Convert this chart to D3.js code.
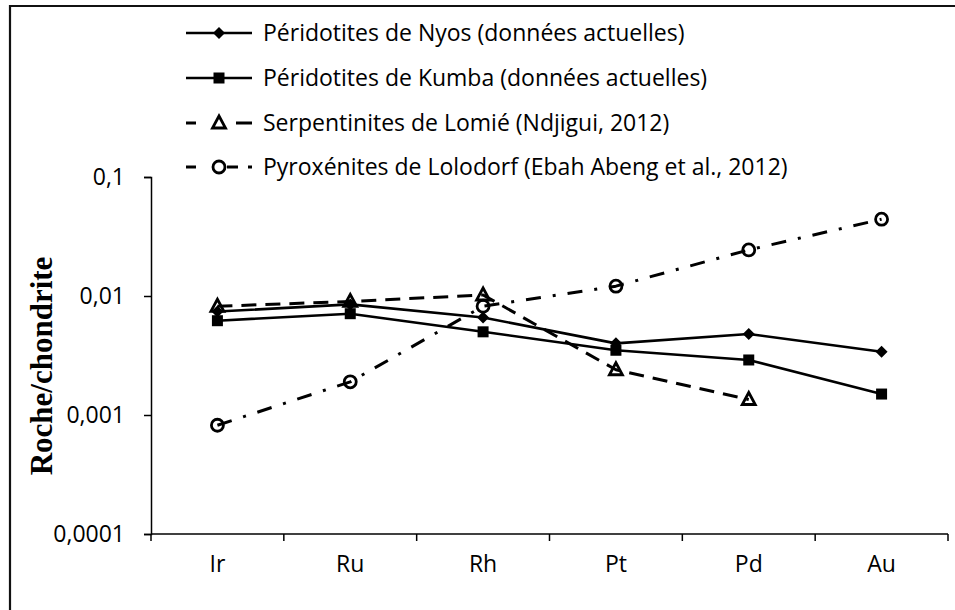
<!DOCTYPE html>
<html>
<head>
<meta charset="utf-8">
<script src="https://cdn.jsdelivr.net/npm/d3@7"></script>
<style>
  html, body { margin: 0; padding: 0; background: #fff; }
  svg { display: block; }
</style>
</head>
<body>
<svg id="chart" width="955" height="610"></svg>
<script>
// Platinum-group elements normalised to chondrite
const categories = ["Ir", "Ru", "Rh", "Pt", "Pd", "Au"];
const nyos     = [0.0074, 0.0085, 0.0066, 0.0040, 0.0048, 0.0034];
const kumba    = [0.0062, 0.0071, 0.0050, 0.0035, 0.0029, 0.0015];
const lomie    = [0.0082, 0.0090, 0.0102, 0.0024, 0.00135, null];
const lolodorf = [0.00082, 0.0019, 0.0082, 0.0121, 0.0244, 0.0442];

const seriesNames = [
  "Péridotites de Nyos (données actuelles)",
  "Péridotites de Kumba (données actuelles)",
  "Serpentinites de Lomié (Ndjigui, 2012)",
  "Pyroxénites de Lolodorf (Ebah Abeng et al., 2012)"
];
const yTicks = [0.0001, 0.001, 0.01, 0.1];
const yTitle = "Roche/chondrite";

const sansFont = "'Open Sans', sans-serif";
const svg = d3.select("#chart");

// outer frame (runs off the right and bottom edges)
svg.append("path")
  .attr("d", "M10,620 L10,6 L970,6")
  .attr("fill", "none").attr("stroke", "#111").attr("stroke-width", 2.2);

const x = d3.scaleBand().domain(categories).range([151, 948]);
const y = d3.scaleLog().domain([0.0001, 0.1]).range([534, 177]);

// y axis
const yAxis = svg.append("g").attr("transform", "translate(151,0)")
  .call(d3.axisLeft(y).tickValues(yTicks).tickSize(7).tickPadding(19)
    .tickFormat(d => String(d).replace(".", ",")));
yAxis.select(".domain").attr("stroke", "#000").attr("stroke-width", 1.5);
yAxis.selectAll(".tick line").attr("stroke", "#000").attr("stroke-width", 1.5);
yAxis.selectAll(".tick text").style("font-size", "23px").style("font-family", sansFont).attr("fill", "#000");

// x axis: line, tick marks at band boundaries, labels at band centres
const xAxis = svg.append("g").attr("transform", "translate(0,534)")
  .call(d3.axisBottom(x).tickSize(0).tickPadding(22));
xAxis.select(".domain").attr("stroke", "#000").attr("stroke-width", 1.5)
  .attr("d", `M${x.range()[0]},0H${x.range()[1]}`);
xAxis.selectAll(".tick text").style("font-size", "23px").style("font-family", sansFont).attr("fill", "#000");
const bounds = categories.map(c => x(c)).concat([x.range()[1]]);
xAxis.selectAll("line.bound").data(bounds).join("line")
  .attr("class", "bound")
  .attr("x1", d => d).attr("x2", d => d).attr("y1", 0).attr("y2", 7)
  .attr("stroke", "#000").attr("stroke-width", 1.5);

// y axis title
svg.append("text")
  .attr("transform", "translate(41,366) rotate(-90)")
  .attr("text-anchor", "middle").attr("dominant-baseline", "central")
  .style("font-family", "'Liberation Serif', 'Times New Roman', serif")
  .style("font-weight", "bold").style("font-size", "31px")
  .attr("fill", "#000").text(yTitle);

const cx = c => x(c) + x.bandwidth() / 2;

const series = [
  { name: seriesNames[0], values: nyos,     dash: null,          width: 2.6, marker: "diamond" },
  { name: seriesNames[1], values: kumba,    dash: null,          width: 2.6, marker: "square" },
  { name: seriesNames[2], values: lomie,    dash: "15,9",        width: 3,   marker: "triangle" },
  { name: seriesNames[3], values: lolodorf, dash: "15,12,3,12",  width: 3,   marker: "circle" }
];

function drawMarker(g, type, px, py) {
  if (type === "diamond") {
    g.append("path").attr("d", `M${px},${py - 6}L${px + 6},${py}L${px},${py + 6}L${px - 6},${py}Z`)
      .attr("fill", "#000");
  } else if (type === "square") {
    g.append("rect").attr("x", px - 5.5).attr("y", py - 5.5).attr("width", 11).attr("height", 11)
      .attr("fill", "#000");
  } else if (type === "triangle") {
    g.append("path").attr("d", `M${px},${py - 7}L${px + 6.5},${py + 5}L${px - 6.5},${py + 5}Z`)
      .attr("fill", "none").attr("stroke", "#000").attr("stroke-width", 2.8).attr("stroke-linejoin", "miter");
  } else {
    g.append("circle").attr("cx", px).attr("cy", py).attr("r", 6)
      .attr("fill", "none").attr("stroke", "#000").attr("stroke-width", 2.8);
  }
}

const plot = svg.append("g");
series.forEach(s => {
  const pts = categories.map((c, i) => ({ c, v: s.values[i] })).filter(d => d.v != null);
  const line = d3.line().x(d => cx(d.c)).y(d => y(d.v));
  plot.append("path").datum(pts).attr("d", line)
    .attr("fill", "none").attr("stroke", "#000").attr("stroke-width", s.width)
    .attr("stroke-dasharray", s.dash).attr("stroke-linejoin", "round");
  pts.forEach(d => drawMarker(plot, s.marker, cx(d.c), y(d.v)));
});

// legend
const legendRows = [33, 78, 123, 167];
const legendDash = [null, null, "10,40,16", "10,31,11"];
const legend = svg.append("g");
series.forEach((s, i) => {
  const ly = legendRows[i];
  legend.append("line").attr("x1", 186).attr("x2", 252).attr("y1", ly).attr("y2", ly)
    .attr("stroke", "#000").attr("stroke-width", s.width).attr("stroke-dasharray", legendDash[i]);
  drawMarker(legend, s.marker, 219, ly);
  legend.append("text").attr("x", 263).attr("y", ly).attr("dy", "0.36em")
    .style("font-size", "23px").style("font-family", sansFont).attr("fill", "#000").text(s.name);
});
</script>
</body>
</html>
